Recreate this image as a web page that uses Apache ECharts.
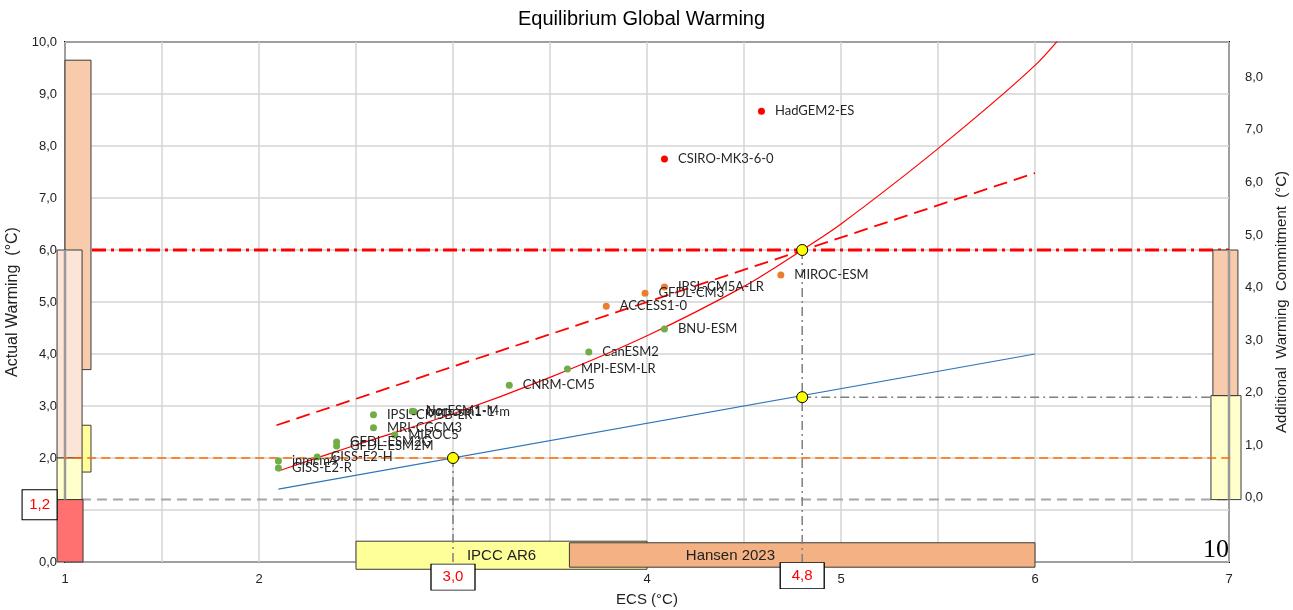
<!DOCTYPE html>
<html>
<head>
<meta charset="utf-8">
<script src="https://cdn.jsdelivr.net/npm/echarts@6/dist/echarts.min.js"></script>
<style>
  html, body { margin: 0; padding: 0; background: #fff; }
  #chart { width: 1293px; height: 610px; }
</style>
</head>
<body>
<div id="chart"></div>
<script>
// models above 7 degC
const hotModels = ["HadGEM2-ES", "CSIRO-MK3-6-0"];
const hotEcs = [4.59, 4.09];
const hotWarming = [8.67, 7.75];

// models between 4.5 and 6
const warmModels = ["MIROC-ESM", "IPSL-CM5A-LR", "GFDL-CM3", "ACCESS1-0"];
const warmEcs = [4.69, 4.09, 3.99, 3.79];
const warmWarming = [5.52, 5.29, 5.17, 4.92];

// the rest
const coolModels = ["BNU-ESM", "CanESM2", "MPI-ESM-LR", "CNRM-CM5", "NorESM1-M", "bcc-csm1-1-m",
  "IPSL-CM5B-LR", "MRI-CGCM3", "MIROC5", "GFDL-ESM2G", "GFDL-ESM2M", "GISS-E2-H", "inmcm4", "GISS-E2-R"];
const coolEcs = [4.09, 3.70, 3.59, 3.29, 2.79, 2.80, 2.59, 2.59, 2.70, 2.40, 2.40, 2.30, 2.10, 2.10];
const coolWarming = [4.48, 4.04, 3.71, 3.40, 2.90, 2.89, 2.83, 2.58, 2.44, 2.31, 2.23, 2.02, 1.94, 1.81];

// fitted curve
const fitEcs = [2.1, 2.5, 3.0, 3.5, 4.0, 4.5, 4.8, 5.0, 5.5, 6.0, 6.2];
const fitWarming = [1.75, 2.25, 2.85, 3.55, 4.35, 5.3, 6.0, 6.5, 7.95, 9.55, 10.4];

const dashEcs = [2.09, 6.0];
const dashWarming = [2.63, 7.48];
const blueEcs = [2.1, 6.0];
const blueWarming = [1.40, 4.0];

// highlighted points
const keyEcs = [3.0, 4.8, 4.8];
const keyWarming = [2.0, 6.0, 3.17];

// ranges drawn as boxes: x0, x1, y0, y1
const boxX0 = [1.0, 1.0, 0.959, 0.959, 0.959, 6.907, 6.917, 2.5, 3.6];
const boxX1 = [1.134, 1.134, 1.088, 1.088, 1.093, 7.062, 7.046, 4.0, 6.0];
const boxY0 = [3.7, 1.73, 2.0, 1.2, 0.0, 1.2, 3.2, -0.14, -0.10];
const boxY1 = [9.65, 2.63, 6.0, 2.0, 1.2, 3.2, 6.0, 0.40, 0.37];
const boxNames = ["", "", "", "", "", "", "", "IPCC AR6", "Hansen 2023"];
const boxColors = ["#F8CBAD", "#FFFF99", "#FCE4D6", "#FFFFCC", "#FF7070", "#FFFFCC", "#F8CBAD", "#FFFF99", "#F4B183"];

// value call-outs
const calloutText = ["1,2", "3,0", "4,8"];
const calloutEcs = [0.869, 3.0, 4.8];
const calloutWarming = [1.1, -0.29, -0.26];

const fmt = (v) => v.toFixed(1).replace(".", ",");
const zip = (xs, ys, names) => xs.map((x, i) => names ? [x, ys[i], names[i]] : [x, ys[i]]);

const labelFont = { fontFamily: "Lato", fontSize: 13, color: "#262626" };
const axisFont = { fontFamily: "Liberation Sans", fontSize: 13, color: "#222" };

const modelSeries = (data, color) => ({
  type: "scatter",
  data,
  symbolSize: 7,
  itemStyle: { color, opacity: 1 },
  z: 4,
  label: {
    show: true,
    position: "right",
    distance: 10,
    formatter: (p) => p.data[2],
    ...labelFont,
  },
});

const lineSeries = (data, color, width, type, z, clip) => ({
  type: "line",
  data,
  symbol: "none",
  lineStyle: { color, width, type },
  z,
  clip: clip !== false,
  silent: true,
});

const chart = echarts.init(document.getElementById("chart"));

chart.setOption({
  animation: false,
  title: {
    text: "Equilibrium Global Warming",
    left: 513,
    top: 4,
    textStyle: { fontFamily: "Liberation Sans", fontSize: 20, fontWeight: "normal", color: "#000" },
  },
  grid: {
    left: 65, right: 64, top: 42, bottom: 48,
    outerBoundsMode: "none",
    show: true, borderColor: "#000", borderWidth: 2,
  },
  xAxis: {
    type: "value",
    min: 1, max: 7, interval: 0.5,
    name: "ECS (°C)",
    nameLocation: "middle",
    nameGap: 30,
    nameTextStyle: { fontFamily: "Liberation Sans", fontSize: 15, color: "#222" },
    axisLine: { show: false },
    axisTick: { show: false },
    axisLabel: {
      ...axisFont,
      margin: 11,
      formatter: (v) => (Number.isInteger(v) ? String(v) : ""),
    },
    splitLine: { lineStyle: { color: "#D4D4D4", width: 1.5 } },
  },
  yAxis: [
    {
      type: "value",
      min: 0, max: 10, interval: 1,
      name: "Actual Warming  (°C)",
      nameLocation: "middle",
      nameGap: 33,
      nameRotate: 90,
      nameTextStyle: { fontFamily: "Liberation Sans", fontSize: 16, color: "#222" },
      axisLine: { show: false },
      axisTick: { show: false },
      axisLabel: { ...axisFont, margin: 8, formatter: fmt },
      splitLine: { lineStyle: { color: "#D4D4D4", width: 1.5 } },
    },
    {
      type: "value",
      position: "right",
      min: -1.22, max: 8.67,
      name: "Additional  Warming  Commitment  (°C)",
      nameLocation: "middle",
      nameGap: 35,
      nameRotate: 90,
      nameTextStyle: { fontFamily: "Liberation Sans", fontSize: 15, color: "#222" },
      axisLine: { show: false },
      axisTick: { show: false },
      axisLabel: {
        ...axisFont,
        margin: 16,
        customValues: [0, 1, 2, 3, 4, 5, 6, 7, 8],
        formatter: fmt,
      },
      splitLine: { show: false },
    },
  ],
  graphic: [
    {
      type: "text",
      left: 1203,
      top: 537,
      z: 100,
      style: { text: "10", font: "26px 'Liberation Serif'", fill: "#000" },
    },
  ],
  series: [
    // reference lines under the boxes
    lineSeries([[1.0, 1.2], [7.0, 1.2]], "#A6A6A6", 2, [10, 6], 1),
    lineSeries([[1.0, 6.0], [7.0, 6.0]], "#FF0000", 3, [14, 5, 3, 5], 1),
    lineSeries([[4.8, 3.17], [7.0, 3.17]], "#7F7F7F", 1.5, [9, 4, 2, 4], 1),
    {
      type: "custom",
      clip: false,
      z: 2,
      silent: true,
      data: boxX0.map((x, i) => [x, boxX1[i], boxY0[i], boxY1[i]]),
      encode: { x: [0, 1], y: [2, 3] },
      renderItem: (params, api) => {
        const i = params.dataIndex;
        const a = api.coord([api.value(0), api.value(3)]);
        const b = api.coord([api.value(1), api.value(2)]);
        const children = [{
          type: "rect",
          shape: { x: a[0], y: a[1], width: b[0] - a[0], height: b[1] - a[1] },
          style: { fill: boxColors[i], stroke: "#3a3a3a", lineWidth: 1 },
        }];
        if (boxNames[i]) {
          const cx = i === 8 ? api.coord([4.43, 0])[0] : (a[0] + b[0]) / 2;
          children.push({
            type: "text",
            style: {
              text: boxNames[i], x: cx, y: (a[1] + b[1]) / 2 + 1,
              align: "center", verticalAlign: "middle",
              font: "15px 'Liberation Sans'", fill: "#222",
            },
          });
        }
        return { type: "group", children };
      },
    },
    // lines over the boxes
    lineSeries([[1.0, 1.2], [1.0, 6.0]], "#999999", 2.5, "solid", 3, false),
    lineSeries([[7.0, 1.2], [7.0, 6.0]], "#999999", 2.5, "solid", 3, false),
    lineSeries([[0.97, 2.0], [7.06, 2.0]], "#FF6A00", 1.5, [9, 5], 3, false),
    lineSeries([[3.0, 2.0], [3.0, -0.15]], "#7F7F7F", 1.5, [9, 4, 2, 4], 3, false),
    lineSeries([[4.8, 6.0], [4.8, -0.15]], "#7F7F7F", 1.5, [9, 4, 2, 4], 3, false),
    {
      ...lineSeries(zip(fitEcs, fitWarming), "#FF0000", 1.2, "solid", 3),
      smooth: 0.3,
    },
    lineSeries(zip(dashEcs, dashWarming), "#FF0000", 1.8, [14, 7], 3),
    lineSeries(zip(blueEcs, blueWarming), "#2E75B6", 1.2, "solid", 3),
    modelSeries(zip(hotEcs, hotWarming, hotModels), "#FF0000"),
    modelSeries(zip(warmEcs, warmWarming, warmModels), "#ED7D31"),
    modelSeries(zip(coolEcs, coolWarming, coolModels), "#70AD47"),
    {
      type: "scatter",
      data: zip(keyEcs, keyWarming),
      symbolSize: 11,
      itemStyle: { color: "#FFFF00", borderColor: "#000", borderWidth: 1, opacity: 1 },
      z: 5,
    },
    {
      type: "scatter",
      clip: false,
      data: zip(calloutEcs, calloutWarming, calloutText),
      symbol: "rect",
      symbolSize: (v, p) => (p.dataIndex === 0 ? [35, 30] : [44, 26]),
      itemStyle: { color: "#fff", borderColor: "#000", borderWidth: 1, opacity: 1 },
      z: 6,
      label: {
        show: true,
        position: "inside",
        formatter: (p) => p.data[2],
        fontFamily: "Liberation Sans",
        fontSize: 15,
        color: "#FF0000",
      },
    },
  ],
});
</script>
</body>
</html>
